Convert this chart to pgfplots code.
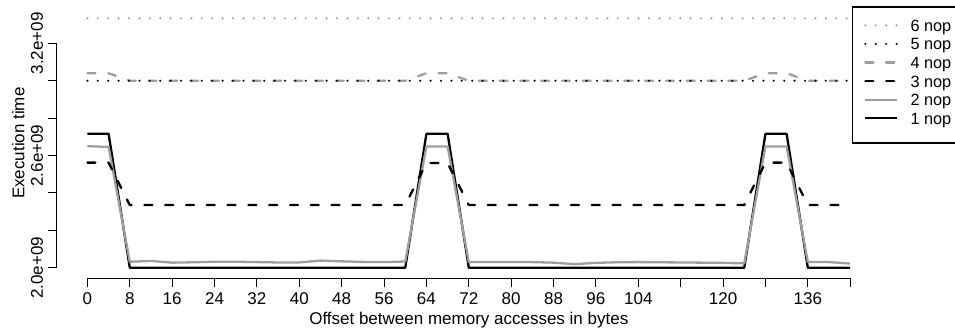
\documentclass[border=0pt]{standalone}
\usepackage{pgfplots}
\usepackage{pgfplotstable}
\pgfplotsset{compat=1.18}
\usepackage{fontspec}
\setmainfont{Liberation Sans}
\definecolor{lg}{rgb}{0.62,0.62,0.62}
\pgfplotstableread{
x    n1    n2    n3    n4    n5    n6
0    2.716 2.650 2.562 3.040 3.000 3.334
4    2.716 2.646 2.562 3.040 3.000 3.334
8    2.000 2.032 2.335 3.000 3.000 3.334
12   2.000 2.036 2.335 3.000 3.000 3.334
16   2.000 2.027 2.335 3.000 3.000 3.334
20   2.000 2.029 2.335 3.000 3.000 3.334
24   2.000 2.032 2.335 3.000 3.000 3.334
28   2.000 2.032 2.335 3.000 3.000 3.334
32   2.000 2.030 2.335 3.000 3.000 3.334
36   2.000 2.028 2.335 3.000 3.000 3.334
40   2.000 2.028 2.335 3.000 3.000 3.334
44   2.000 2.038 2.335 3.000 3.000 3.334
48   2.000 2.034 2.335 3.000 3.000 3.334
52   2.000 2.031 2.335 3.000 3.000 3.334
56   2.000 2.030 2.335 3.000 3.000 3.334
60   2.000 2.033 2.335 3.000 3.000 3.334
64   2.716 2.648 2.560 3.040 3.000 3.334
68   2.716 2.648 2.560 3.040 3.000 3.334
72   2.000 2.030 2.335 3.000 3.000 3.334
76   2.000 2.031 2.335 3.000 3.000 3.334
80   2.000 2.031 2.335 3.000 3.000 3.334
84   2.000 2.030 2.335 3.000 3.000 3.334
88   2.000 2.027 2.335 3.000 3.000 3.334
92   2.000 2.019 2.335 3.000 3.000 3.334
96   2.000 2.026 2.335 3.000 3.000 3.334
100  2.000 2.029 2.335 3.000 3.000 3.334
104  2.000 2.030 2.335 3.000 3.000 3.334
108  2.000 2.029 2.335 3.000 3.000 3.334
112  2.000 2.028 2.335 3.000 3.000 3.334
116  2.000 2.027 2.335 3.000 3.000 3.334
120  2.000 2.026 2.335 3.000 3.000 3.334
124  2.000 2.023 2.335 3.000 3.000 3.334
128  2.716 2.648 2.562 3.040 3.000 3.334
132  2.716 2.648 2.562 3.040 3.000 3.334
136  2.000 2.031 2.335 3.000 3.000 3.334
140  2.000 2.030 2.335 3.000 3.000 3.334
144  2.000 2.022 2.335 3.000 3.000 3.334
}\data
\begin{document}
\begin{tikzpicture}[font=\fontsize{17}{20}\selectfont]
\begin{axis}[
  at={(56.9pt,50.7pt)}, anchor=south west,
  scale only axis, width=823.8pt, height=270.3pt,
  xmin=-5.76, xmax=149.76, ymin=1.9433, ymax=3.389,
  axis x line*=bottom, axis y line*=left,
  axis line style={draw=none},
  clip mode=individual,
  tick align=outside, major tick length=9pt,
  tick style={black, line width=1.1pt},
  xtick={0,8,...,144},
  xticklabels={0,8,16,24,32,40,48,56,64,72,80,88,96,104,,120,,136,},
  ytick={2.0,2.2,2.4,2.6,2.8,3.0,3.2},
  yticklabels={2.0e+09,,,2.6e+09,,,3.2e+09},
  xticklabel style={anchor=base, yshift=-17pt},
  yticklabel style={xshift=-5pt, rotate=90, anchor=base},
  xlabel={Offset between memory accesses in bytes},
  ylabel={Execution time},
  every axis x label/.style={at={(rel axis cs:0.5,0)}, anchor=base, yshift=-46.1pt},
  every axis y label/.style={at={(rel axis cs:0,0.5)}, xshift=-32.5pt, rotate=90, anchor=base},
  legend style={draw=none, fill=none, inner sep=0pt, row sep=0pt, column sep=12pt,
    at={(0.97973,0.97151)}, anchor=north west,
    font=\fontsize{16.3}{19}\selectfont,
    nodes={inner sep=0pt, anchor=base west, text height=15.4pt, text depth=3.2pt}},
  legend cell align=left,
  reverse legend,
  legend image code/.code={\draw[#1] (0pt,6pt) -- (32pt,6pt);},
  every axis plot/.append style={line width=2.3pt, line join=round},
]
\addplot[black, line cap=butt] table[x=x,y=n1]{\data};
\addlegendentry{1 nop}
\addplot[lg, line cap=butt] table[x=x,y=n2]{\data};
\addlegendentry{2 nop}
\addplot[black, line cap=round, dash pattern=on 8pt off 12.8pt] table[x=x,y=n3]{\data};
\addlegendentry{3 nop}
\addplot[lg, line cap=round, dash pattern=on 8pt off 12.8pt] table[x=x,y=n4]{\data};
\addlegendentry{4 nop}
\addplot[black, line cap=round, dash pattern=on 0pt off 10.4pt] table[x=x,y=n5]{\data};
\addlegendentry{5 nop}
\addplot[lg, line cap=round, dash pattern=on 0pt off 10.4pt] table[x=x,y=n6]{\data};
\addlegendentry{6 nop}
\draw[black, line width=1.1pt] (axis cs:0,1.9433) -- (axis cs:144,1.9433);
\draw[black, line width=1.1pt] (axis cs:-5.76,2.0) -- (axis cs:-5.76,3.2);
\end{axis}
\draw[black, line width=1.1pt] (852.7pt,322pt) rectangle (975pt,186pt);
\pgfresetboundingbox
\path[use as bounding box] (0pt,0pt) rectangle (955pt,329pt);
\end{tikzpicture}
\end{document}
